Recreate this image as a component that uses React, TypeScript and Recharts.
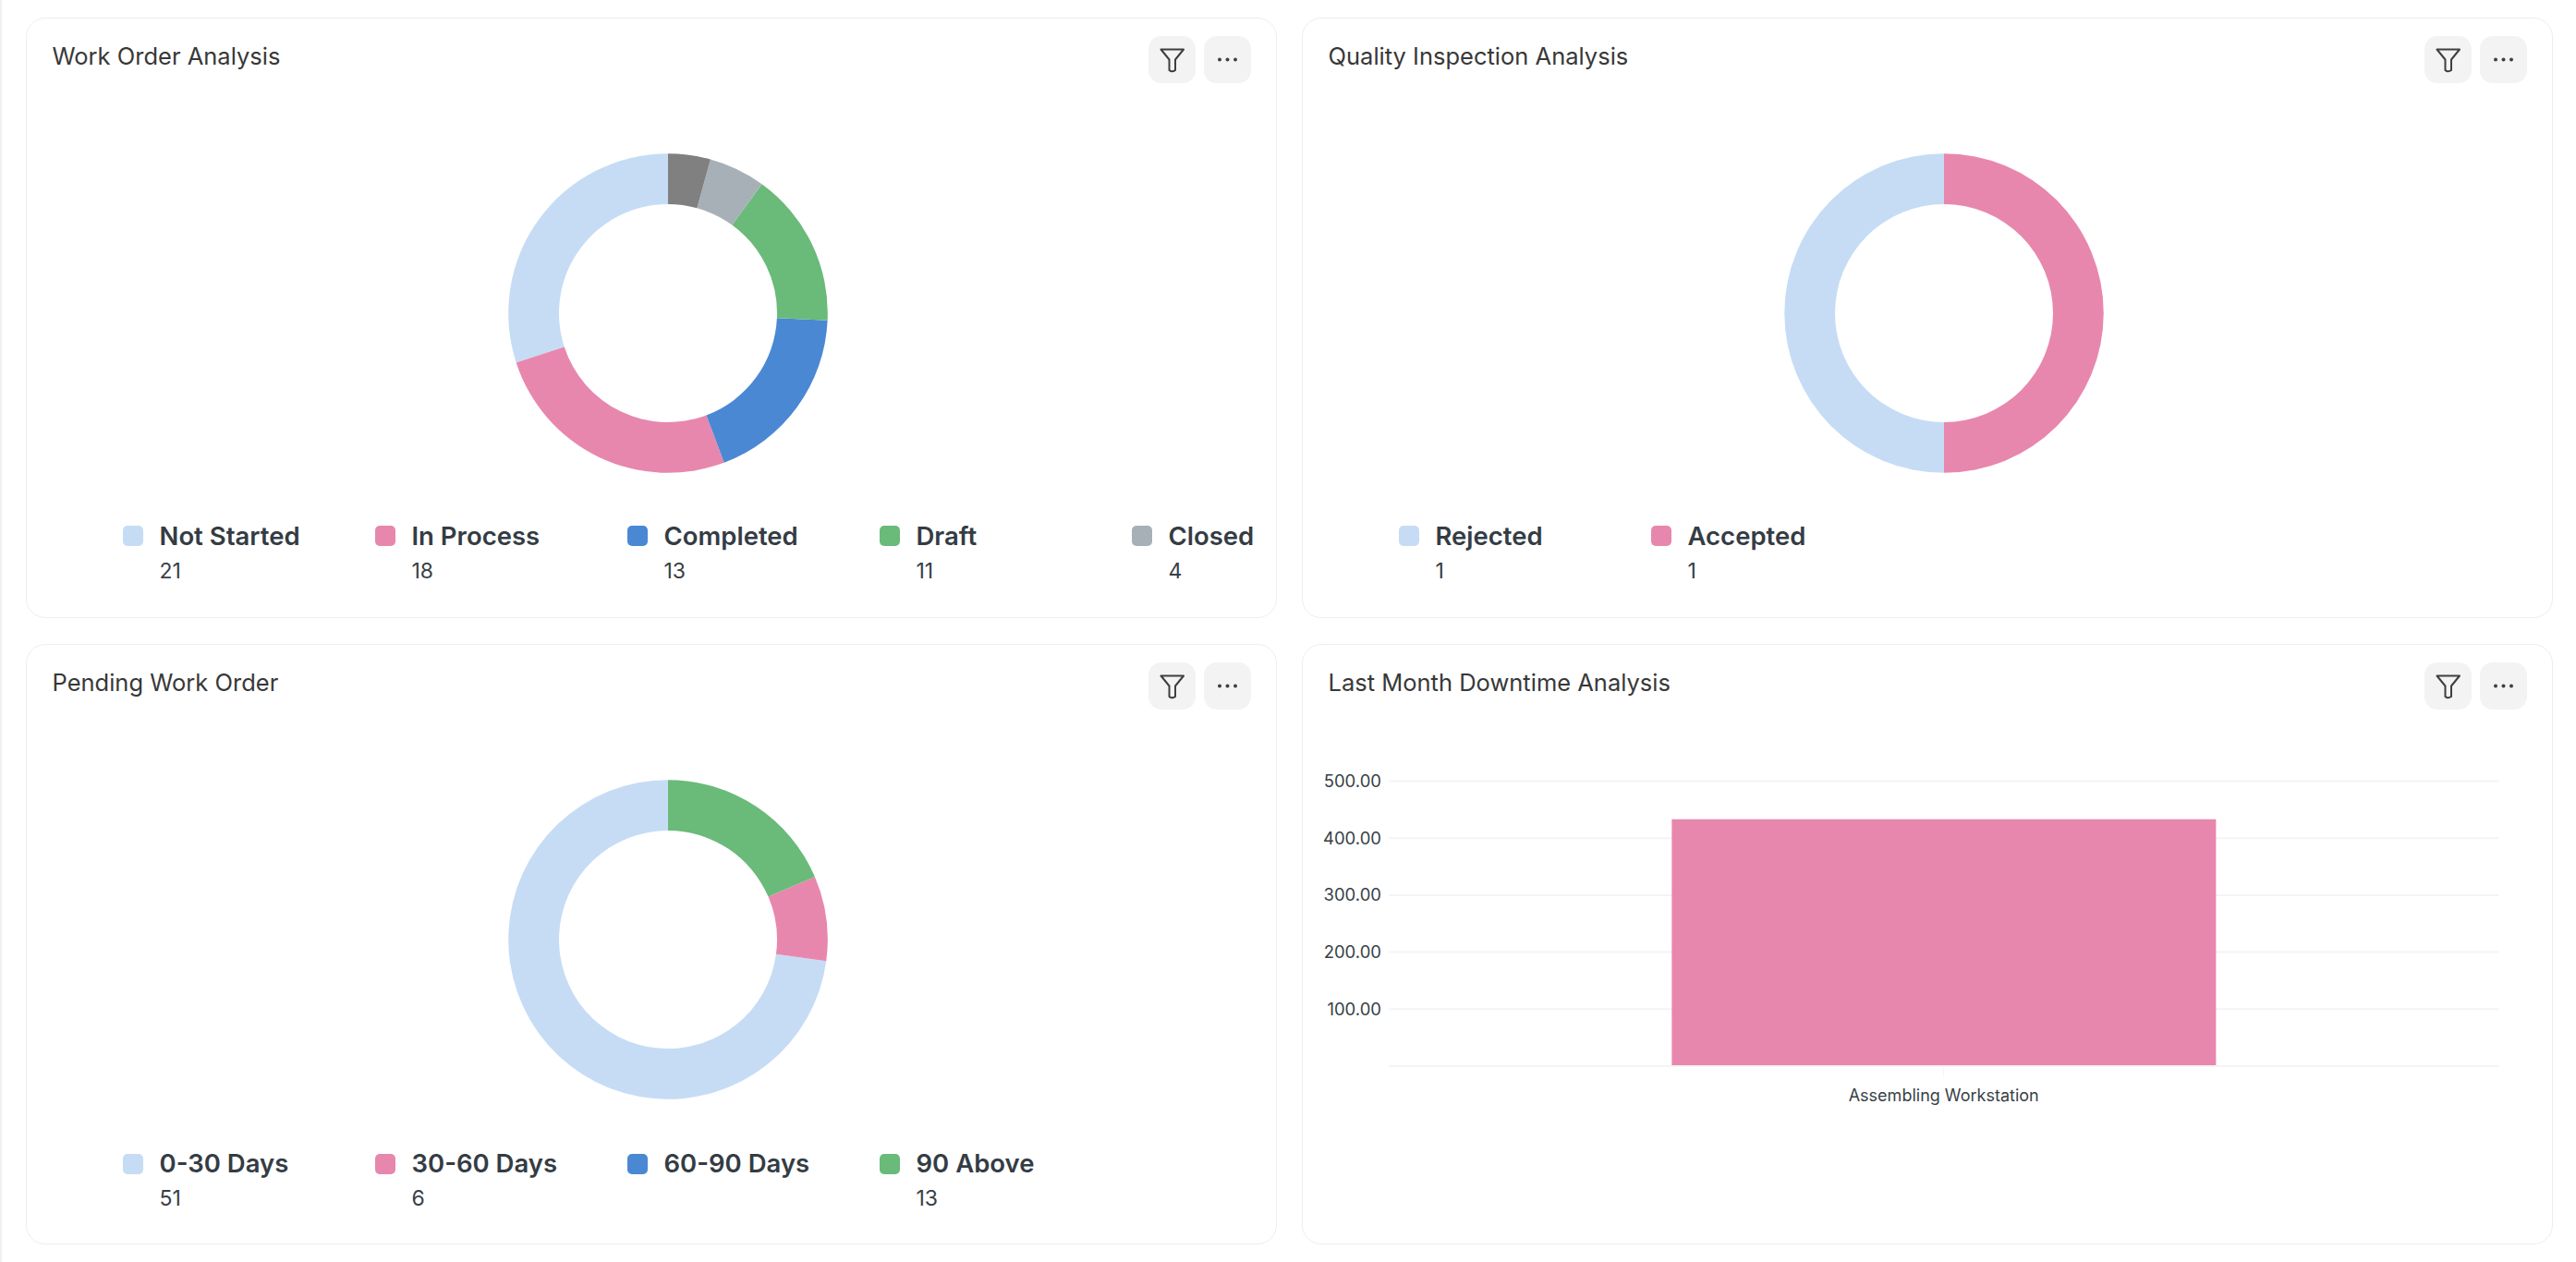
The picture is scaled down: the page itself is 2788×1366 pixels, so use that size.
import React from 'react';
import { PieChart, Pie, Cell, BarChart, Bar, XAxis, YAxis, CartesianGrid } from 'recharts';

const PALETTE = ['#c6dcf5', '#e887ad', '#4a88d4', '#6aba7a', '#a8b0b7', '#808080'];
const FONT = 'Inter, sans-serif';

const workOrderCategories = ['Not Started', 'In Process', 'Completed', 'Draft', 'Closed', 'Stopped'];
const workOrderValues = [21, 18, 13, 11, 4, 3];
const workOrderLegendCount = 5;

const qualityCategories = ['Rejected', 'Accepted'];
const qualityValues = [1, 1];

const pendingCategories = ['0-30 Days', '30-60 Days', '60-90 Days', '90 Above'];
const pendingValues = [51, 6, 0, 13];

const downtimeCategories = ['Assembling Workstation'];
const downtimeValues = [433];
const downtimeTicks = [0, 100, 200, 300, 400, 500];

const CARD_W = 1354;
const CARD_H = 650;
const DX = 1381;
const DY = 678;

function Card({ col, row, title, children }: any) {
  return (
    <div
      style={{
        position: 'absolute',
        left: 28 + col * DX,
        top: 19.3 + row * DY,
        width: CARD_W,
        height: CARD_H,
        boxSizing: 'border-box',
        border: '1.5px solid #eeeeee',
        borderRadius: 21,
        background: '#fff',
      }}
    >
      <div
        style={{
          position: 'absolute',
          left: 27.5,
          top: 24.5 + row * 0.7,
          fontFamily: FONT,
          fontSize: 25.5,
          lineHeight: '32px',
          color: '#383838',
          whiteSpace: 'nowrap',
        }}
      >
        {title}
      </div>
      <div style={{ position: 'absolute', left: 1213.5, top: 19.2, width: 51, height: 51, borderRadius: 14, background: '#f3f3f3' }}>
        <svg width={51} height={51} viewBox="0 0 51 51" style={{ display: 'block' }}>
          <path
            d="M13.5 14.5 H38 L29 25.5 V37 Q25.5 39.5 22.5 37 V25.5 Z"
            fill="none"
            stroke="#3f3f3f"
            strokeWidth={2}
            strokeLinejoin="round"
          />
        </svg>
      </div>
      <div style={{ position: 'absolute', left: 1273.5, top: 19.2, width: 51, height: 51, borderRadius: 14, background: '#f3f3f3' }}>
        <svg width={51} height={51} viewBox="0 0 51 51" style={{ display: 'block' }}>
          <circle cx={17} cy={25.5} r={2} fill="#3f3f3f" />
          <circle cx={25.5} cy={25.5} r={2} fill="#3f3f3f" />
          <circle cx={34} cy={25.5} r={2} fill="#3f3f3f" />
        </svg>
      </div>
      {children}
    </div>
  );
}

function Donut({ categories, values, legendCount, legendTop = 546.5 }: any) {
  const data = categories.map((name: string, i: number) => ({ name, value: values[i] }));
  return (
    <>
      <div style={{ position: 'absolute', left: 493.5, top: 143.4, width: 400, height: 350 }}>
        <PieChart width={400} height={350} margin={{ top: 0, right: 0, bottom: 0, left: 0 }}>
          <Pie
            data={data}
            dataKey="value"
            nameKey="name"
            cx={200}
            cy={175}
            innerRadius={118}
            outerRadius={172.8}
            startAngle={90}
            endAngle={450}
            stroke="none"
            isAnimationActive={false}
          >
            {data.map((d: any, i: number) => (
              <Cell key={d.name} fill={PALETTE[i]} />
            ))}
          </Pie>
        </PieChart>
      </div>
      {data.slice(0, legendCount ?? data.length).map((d: any, i: number) => (
        <div key={d.name} style={{ position: 'absolute', left: 103.5 + i * 273, top: legendTop }}>
          <div style={{ position: 'absolute', left: 0, top: 2.7, width: 22, height: 22, borderRadius: 5, background: PALETTE[i] }} />
          <div
            style={{
              position: 'absolute',
              left: 40,
              top: -6,
              fontFamily: FONT,
              fontSize: 27.5,
              fontWeight: 600,
              lineHeight: '38px',
              color: '#343c44',
              whiteSpace: 'nowrap',
            }}
          >
            {d.name}
          </div>
          <div
            style={{
              position: 'absolute',
              left: 40,
              top: 36,
              fontFamily: FONT,
              fontSize: 23,
              lineHeight: '30px',
              color: '#383f47',
              whiteSpace: 'nowrap',
            }}
          >
            {d.value > 0 ? d.value : ''}
          </div>
        </div>
      ))}
    </>
  );
}

function DowntimeChart() {
  const data = downtimeCategories.map((name, i) => ({ name, value: downtimeValues[i] }));
  return (
    <div style={{ position: 'absolute', left: -2.5, top: 102.5, width: 1340, height: 420 }}>
      <BarChart
        width={1340}
        height={420}
        data={data}
        margin={{ top: 44.5, right: 43.6, bottom: 0, left: 0 }}
        barCategoryGap="25.5%"
      >
        <CartesianGrid horizontal vertical={false} stroke="#f3f4f5" strokeWidth={2} />
        <XAxis
          dataKey="name"
          height={67}
          tickLine={{ stroke: '#f3f4f5', strokeWidth: 1 }}
          tickSize={12}
          tickMargin={13}
          axisLine={{ stroke: '#f3f4f5', strokeWidth: 2 }}
          tick={{ fontFamily: FONT, fontSize: 18, fill: '#383f47' }}
        />
        <YAxis
          width={95}
          domain={[0, 500]}
          ticks={downtimeTicks}
          axisLine={false}
          tickLine={false}
          tickMargin={2}
          tickFormatter={(v: number) => (v === 0 ? '' : v.toFixed(2))}
          tick={{ fontFamily: FONT, fontSize: 18.5, fill: '#383f47' }}
        />
        <Bar dataKey="value" fill={PALETTE[1]} isAnimationActive={false} />
      </BarChart>
    </div>
  );
}

export default function App() {
  return (
    <div style={{ position: 'absolute', left: 0, top: 0, width: 2788, height: 1366, background: '#fff', overflow: 'hidden' }}>
      <div style={{ position: 'absolute', left: 0, top: 0, width: 1.5, height: 1366, background: '#f0f0f0' }} />
      <Card col={0} row={0} title="Work Order Analysis">
        <Donut categories={workOrderCategories} values={workOrderValues} legendCount={workOrderLegendCount} />
      </Card>
      <Card col={1} row={0} title="Quality Inspection Analysis">
        <Donut categories={qualityCategories} values={qualityValues} />
      </Card>
      <Card col={0} row={1} title="Pending Work Order">
        <Donut categories={pendingCategories} values={pendingValues} legendTop={548} />
      </Card>
      <Card col={1} row={1} title="Last Month Downtime Analysis">
        <DowntimeChart />
      </Card>
    </div>
  );
}
